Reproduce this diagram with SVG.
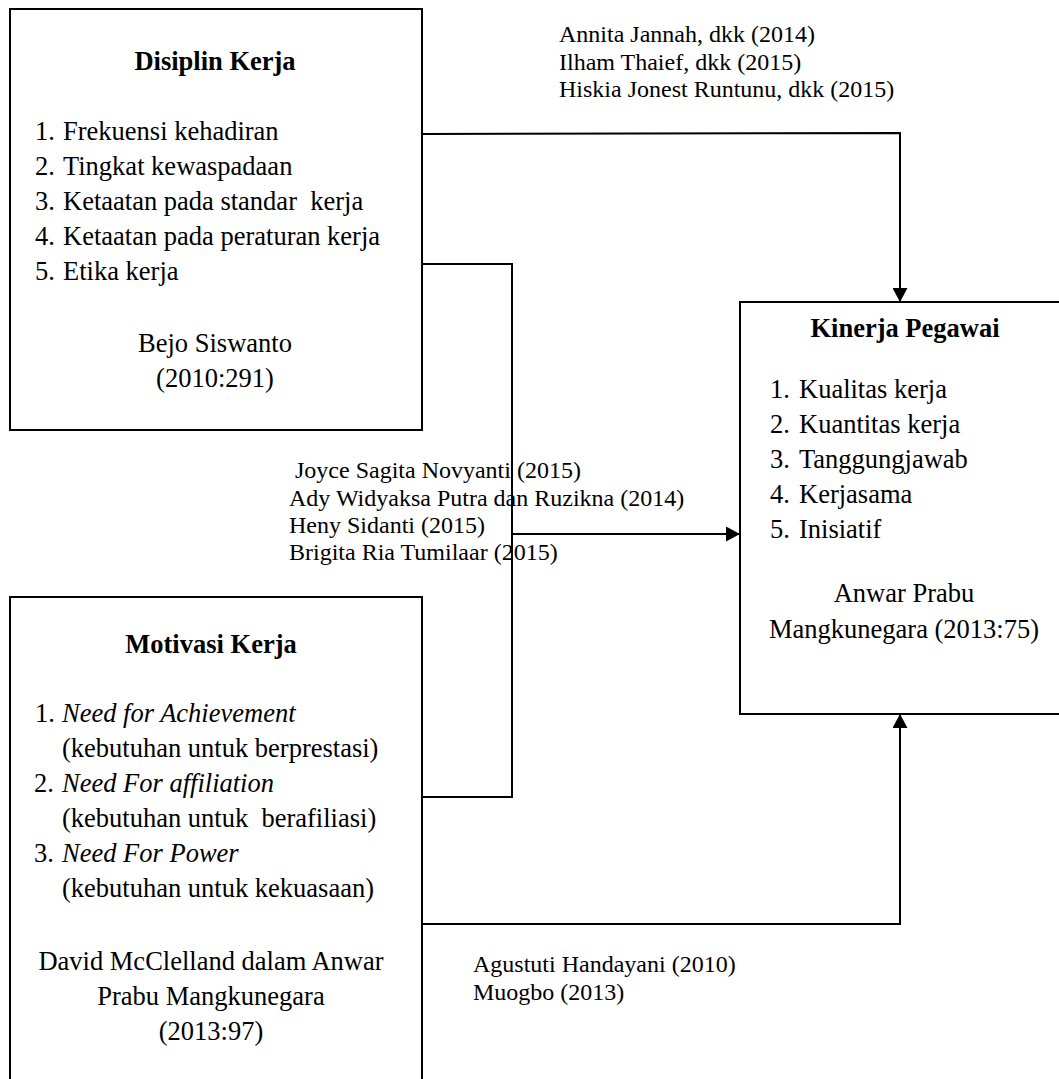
<svg xmlns="http://www.w3.org/2000/svg" width="1059" height="1079" viewBox="0 0 1059 1079">
  <style>
    .box { fill: #ffffff; stroke: #000000; stroke-width: 2; }
    .conn { fill: none; stroke: #000000; stroke-width: 2; }
    text { font-family: "Liberation Serif", "Times New Roman", serif; fill: #000000; }
    .body { font-size: 26.5px; }
    .head { font-size: 26.5px; font-weight: bold; text-anchor: middle; }
    .mid { text-anchor: middle; }
    .it { font-style: italic; }
    .lbl { font-size: 24px; }
    .pre { white-space: pre; }
  </style>
  <defs>
    <marker id="arrow" viewBox="0 0 14 15" refX="14" refY="7.5" markerWidth="14" markerHeight="15" markerUnits="userSpaceOnUse" orient="auto">
      <path d="M0,0 L14,7.5 L0,15 Z" fill="#000000"/>
    </marker>
  </defs>

  <g id="connectors">
    <path class="conn" d="M422,134 L900,133 L900,302" marker-end="url(#arrow)"/>
    <path class="conn" d="M422,264 H512 V797 H422"/>
    <path class="conn" d="M512,534 H740" marker-end="url(#arrow)"/>
    <path class="conn" d="M422,924 H900 V714" marker-end="url(#arrow)"/>
  </g>

  <g id="node-disiplin">
    <rect class="box" x="10" y="9" width="412" height="421"/>
    <text class="head" x="215" y="70">Disiplin Kerja</text>
    <text class="body" x="35" y="139.5">1.</text>
    <text class="body" x="63" y="139.5">Frekuensi kehadiran</text>
    <text class="body" x="35" y="174.5">2.</text>
    <text class="body" x="63" y="174.5">Tingkat kewaspadaan</text>
    <text class="body" x="35" y="209.5">3.</text>
    <text class="body pre" x="63" y="209.5">Ketaatan pada standar  kerja</text>
    <text class="body" x="35" y="244.5">4.</text>
    <text class="body" x="63" y="244.5">Ketaatan pada peraturan kerja</text>
    <text class="body" x="35" y="279.5">5.</text>
    <text class="body" x="63" y="279.5">Etika kerja</text>
    <text class="body mid" x="215" y="352">Bejo Siswanto</text>
    <text class="body mid" x="215" y="387">(2010:291)</text>
  </g>

  <g id="node-motivasi">
    <rect class="box" x="10" y="597" width="412" height="490"/>
    <text class="head" x="211" y="653">Motivasi Kerja</text>
    <text class="body" x="35" y="722">1.</text>
    <text class="body it" x="62" y="722">Need for Achievement</text>
    <text class="body" x="62" y="757">(kebutuhan untuk berprestasi)</text>
    <text class="body" x="34" y="792">2.</text>
    <text class="body it" x="62" y="792">Need For affiliation</text>
    <text class="body pre" x="62" y="827">(kebutuhan untuk  berafiliasi)</text>
    <text class="body" x="34" y="862">3.</text>
    <text class="body it" x="62" y="862">Need For Power</text>
    <text class="body" x="62" y="897">(kebutuhan untuk kekuasaan)</text>
    <text class="body mid" x="211" y="970">David McClelland dalam Anwar</text>
    <text class="body mid" x="211" y="1005">Prabu Mangkunegara</text>
    <text class="body mid" x="211" y="1040">(2013:97)</text>
  </g>

  <g id="node-kinerja">
    <rect class="box" x="740" y="302" width="330" height="412"/>
    <text class="head" x="905" y="337">Kinerja Pegawai</text>
    <text class="body" x="770" y="398">1.</text>
    <text class="body" x="799" y="398">Kualitas kerja</text>
    <text class="body" x="770" y="433">2.</text>
    <text class="body" x="799" y="433">Kuantitas kerja</text>
    <text class="body" x="770" y="468">3.</text>
    <text class="body" x="799" y="468">Tanggungjawab</text>
    <text class="body" x="770" y="503">4.</text>
    <text class="body" x="799" y="503">Kerjasama</text>
    <text class="body" x="770" y="538">5.</text>
    <text class="body" x="799" y="538">Inisiatif</text>
    <text class="body mid" x="904" y="602">Anwar Prabu</text>
    <text class="body mid" x="904" y="638">Mangkunegara (2013:75)</text>
  </g>

  <g id="labels">
    <text class="lbl" x="559" y="42">Annita Jannah, dkk (2014)</text>
    <text class="lbl" x="559" y="69.5">Ilham Thaief, dkk (2015)</text>
    <text class="lbl" x="559" y="97">Hiskia Jonest Runtunu, dkk (2015)</text>
    <text class="lbl" x="295" y="478">Joyce Sagita Novyanti (2015)</text>
    <text class="lbl" x="289" y="505.5">Ady Widyaksa Putra dan Ruzikna (2014)</text>
    <text class="lbl" x="289" y="532.5">Heny Sidanti (2015)</text>
    <text class="lbl" x="289" y="560">Brigita Ria Tumilaar (2015)</text>
    <text class="lbl" x="473" y="972">Agustuti Handayani (2010)</text>
    <text class="lbl" x="473" y="1000">Muogbo (2013)</text>
  </g>
</svg>
